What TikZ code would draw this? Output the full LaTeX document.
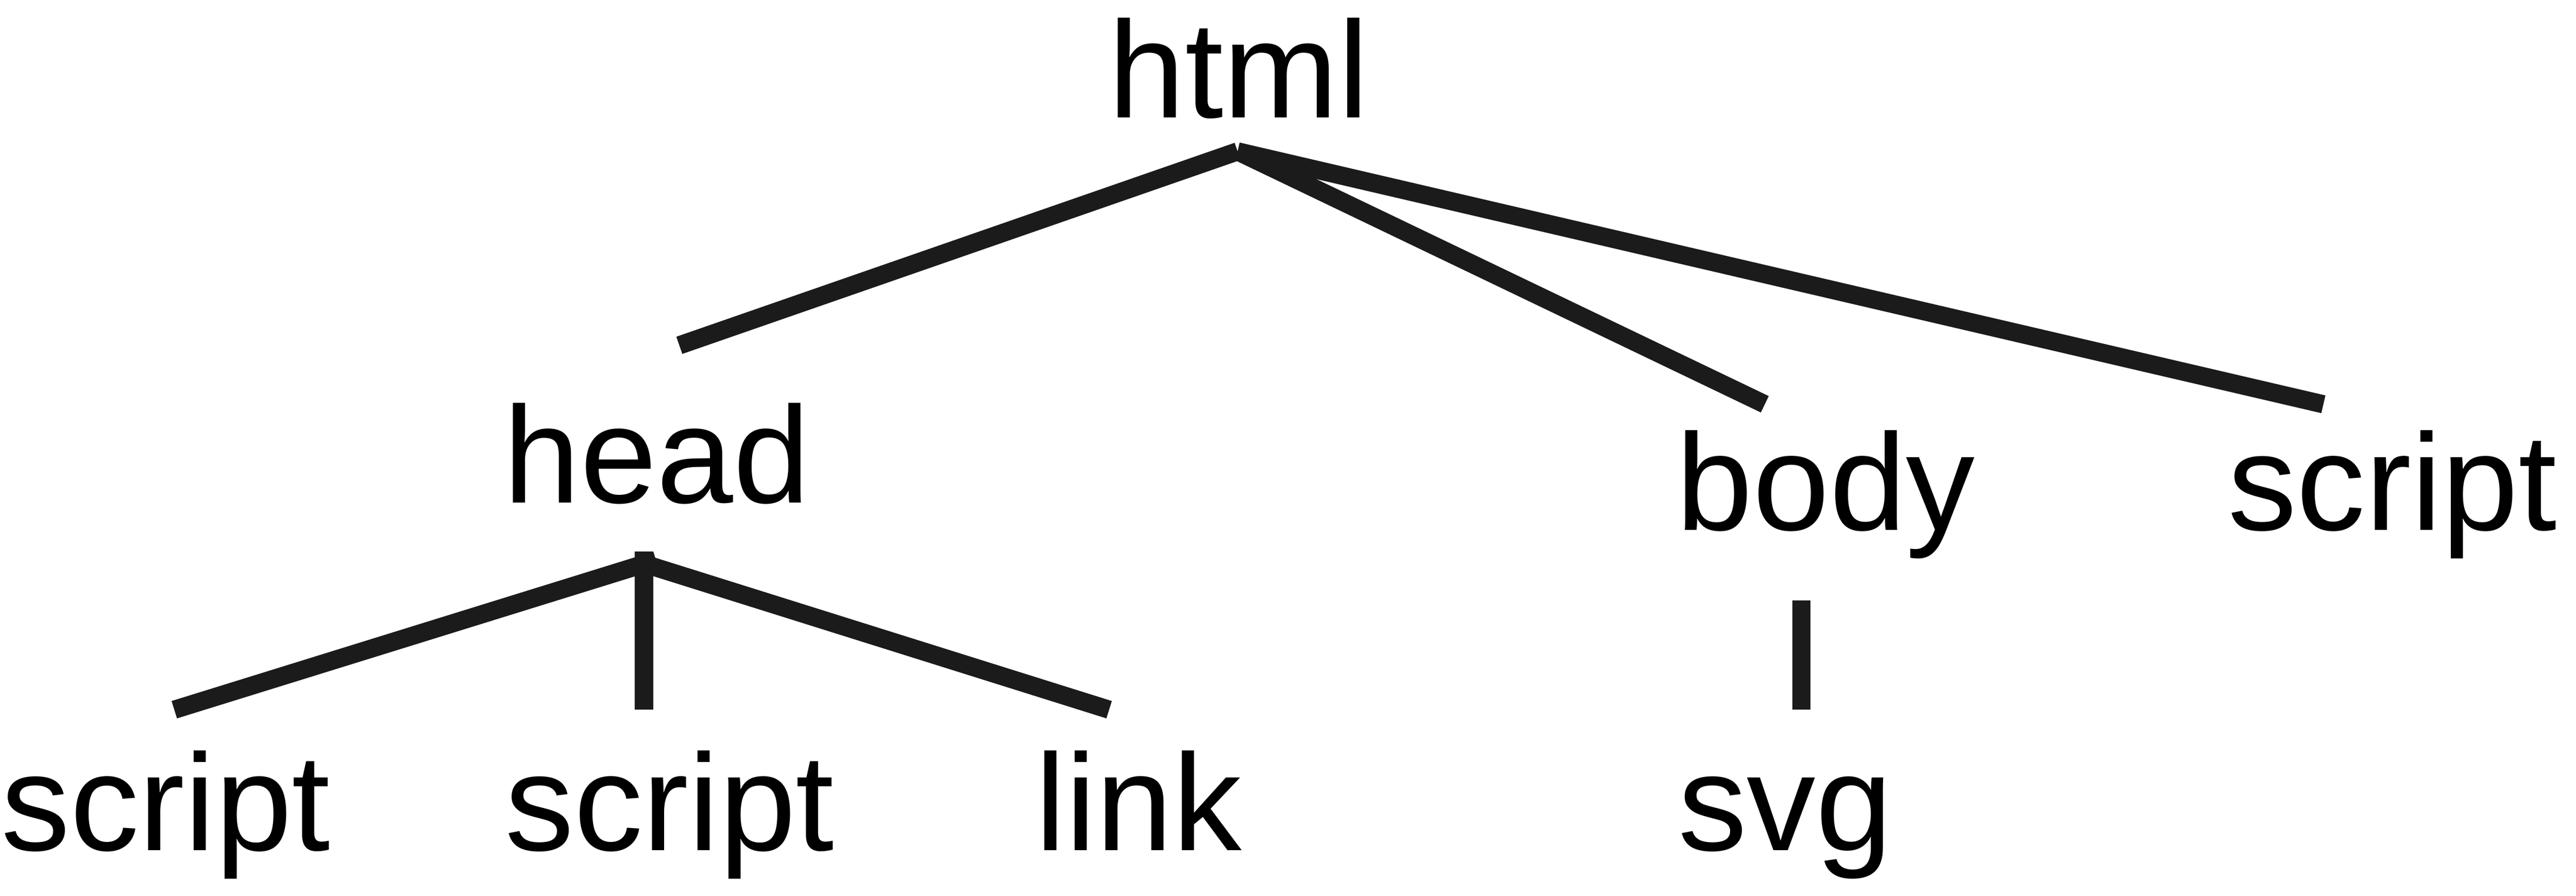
\documentclass[tikz,border=0pt]{standalone}
\usepackage{fontspec}
\setmainfont{Liberation Sans}
\definecolor{edgegray}{RGB}{27,27,27}
\begin{document}
\begin{tikzpicture}[scale=1.0,
  tag/.style={inner sep=0pt,anchor=base,font=\fontsize{23.85}{28}\selectfont},
  edge/.style={draw=edgegray,line width=3.15pt}]
\useasboundingbox (0,0) rectangle (15.68,5.456);
% the tags
\node[tag] (html) at (7.540,4.740) {html};
\node[tag] (head) at (3.998,2.394) {head};
\node[tag] (body) at (11.113,2.228) {body};
\node[tag] (script) at (14.562,2.228) {script};
\node[tag] (script1) at (1.009,0.276) {script};
\node[tag] (script2) at (4.076,0.276) {script};
\node[tag] (link) at (6.930,0.276) {link};
\node[tag] (svg) at (10.867,0.276) {svg};
% ends of the edges
\coordinate (html-b) at (7.533,4.534);
\coordinate (head-t) at (4.135,3.353);
\coordinate (body-t) at (10.742,2.994);
\coordinate (script-t) at (14.142,2.994);
\coordinate (head-b) at (3.920,2.023);
\coordinate (head-bl) at (3.993,2.044);
\coordinate (head-bm) at (3.920,2.096);
\coordinate (script1-t) at (1.061,1.134);
\coordinate (script2-t) at (3.920,1.134);
\coordinate (link-t) at (6.751,1.134);
\coordinate (body-b) at (10.964,1.798);
\coordinate (svg-t) at (10.964,1.134);
\foreach \a/\b in {html-b/head-t,html-b/body-t,html-b/script-t,
  head-bl/script1-t,head-bm/script2-t,head-b/link-t,body-b/svg-t}
  \draw[edge] (\a) -- (\b);
\end{tikzpicture}
\end{document}
